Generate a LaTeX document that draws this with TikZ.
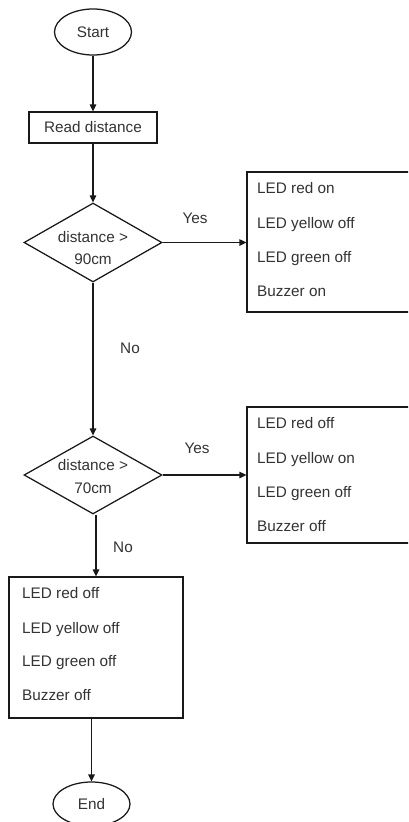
\documentclass[tikz,border=0pt]{standalone}
\usepackage{fontspec}
\setmainfont{Liberation Sans}
\usetikzlibrary{shapes.geometric,arrows.meta}
\begin{document}
\begin{tikzpicture}[x=1pt,y=-1pt,
  every node/.style={font=\fontsize{15.3}{18}\selectfont, text=black!80},
  shp/.style={draw=black!90, line width=1.25pt, inner sep=0pt},
  term/.style={shp, ellipse},
  proc/.style={shp, rectangle},
  dec/.style={shp, diamond},
  txt/.style={anchor=base west, inner sep=0pt},
  ctxt/.style={anchor=base, inner sep=0pt},
  conn/.style={draw=black!90, line width=1.25pt, -{Triangle[length=7pt,width=6.5pt]}},
  plain/.style={draw=black!90, line width=1.25pt}]
\clip (0,0) rectangle (408,822);
\fill[white] (0,0) rectangle (408,822);

\node[term, minimum width=77pt, minimum height=46pt] (start) at (93,32) {Start};
\node[proc, minimum width=128pt, minimum height=31pt] (read) at (93,127.5) {Read distance};
\node[dec, minimum width=138pt, minimum height=79pt] (d1) at (93,242.5) {};
\node[ctxt] (d1a) at (93,242) {distance >};
\node[ctxt] (d1b) at (93,264) {90cm};
\node[dec, minimum width=138pt, minimum height=78pt] (d2) at (93,475) {};
\node[ctxt] (d2a) at (93,470) {distance >};
\node[ctxt] (d2b) at (93,493) {70cm};

\node[proc, minimum width=183pt, minimum height=140pt] (b1) at (338.5,242) {};
\node[txt] (b1l1) at (257,193) {LED red on};
\node[txt] (b1l2) at (257,228) {LED yellow off};
\node[txt] (b1l3) at (257,262) {LED green off};
\node[txt] (b1l4) at (257,296) {Buzzer on};

\node[proc, minimum width=183pt, minimum height=136pt] (b2) at (338.5,475) {};
\node[txt] (b2l1) at (257,428) {LED red off};
\node[txt] (b2l2) at (257,463) {LED yellow on};
\node[txt] (b2l3) at (257,497) {LED green off};
\node[txt] (b2l4) at (257,531) {Buzzer off};

\node[proc, minimum width=174pt, minimum height=141pt] (b3) at (96,647.5) {};
\node[txt] (b3l1) at (22,598) {LED red off};
\node[txt] (b3l2) at (22,633) {LED yellow off};
\node[txt] (b3l3) at (22,666) {LED green off};
\node[txt] (b3l4) at (22,700) {Buzzer off};

\node[term, minimum width=77pt, minimum height=44pt] (end) at (91.5,804) {End};

\node[ctxt] (yes1) at (195,223) {Yes};
\node[ctxt] (no1) at (130,353) {No};
\node[ctxt] (yes2) at (197,453) {Yes};
\node[ctxt] (no2) at (123,552) {No};

\draw[conn] (start.south) -- (read.north);
\draw[conn] (read.south) -- (d1.north);
\draw[conn] (d1.east) -- (d1.east -| b1.west);
\draw[conn] (d1.south) -- (d2.north);
\draw[conn] (d2.east) -- (d2.east -| b2.west);
\draw[conn] (d2.south -| b3.north) -- (b3.north);
\draw[conn] (end.north |- b3.south) -- (end.north);
\end{tikzpicture}
\end{document}
